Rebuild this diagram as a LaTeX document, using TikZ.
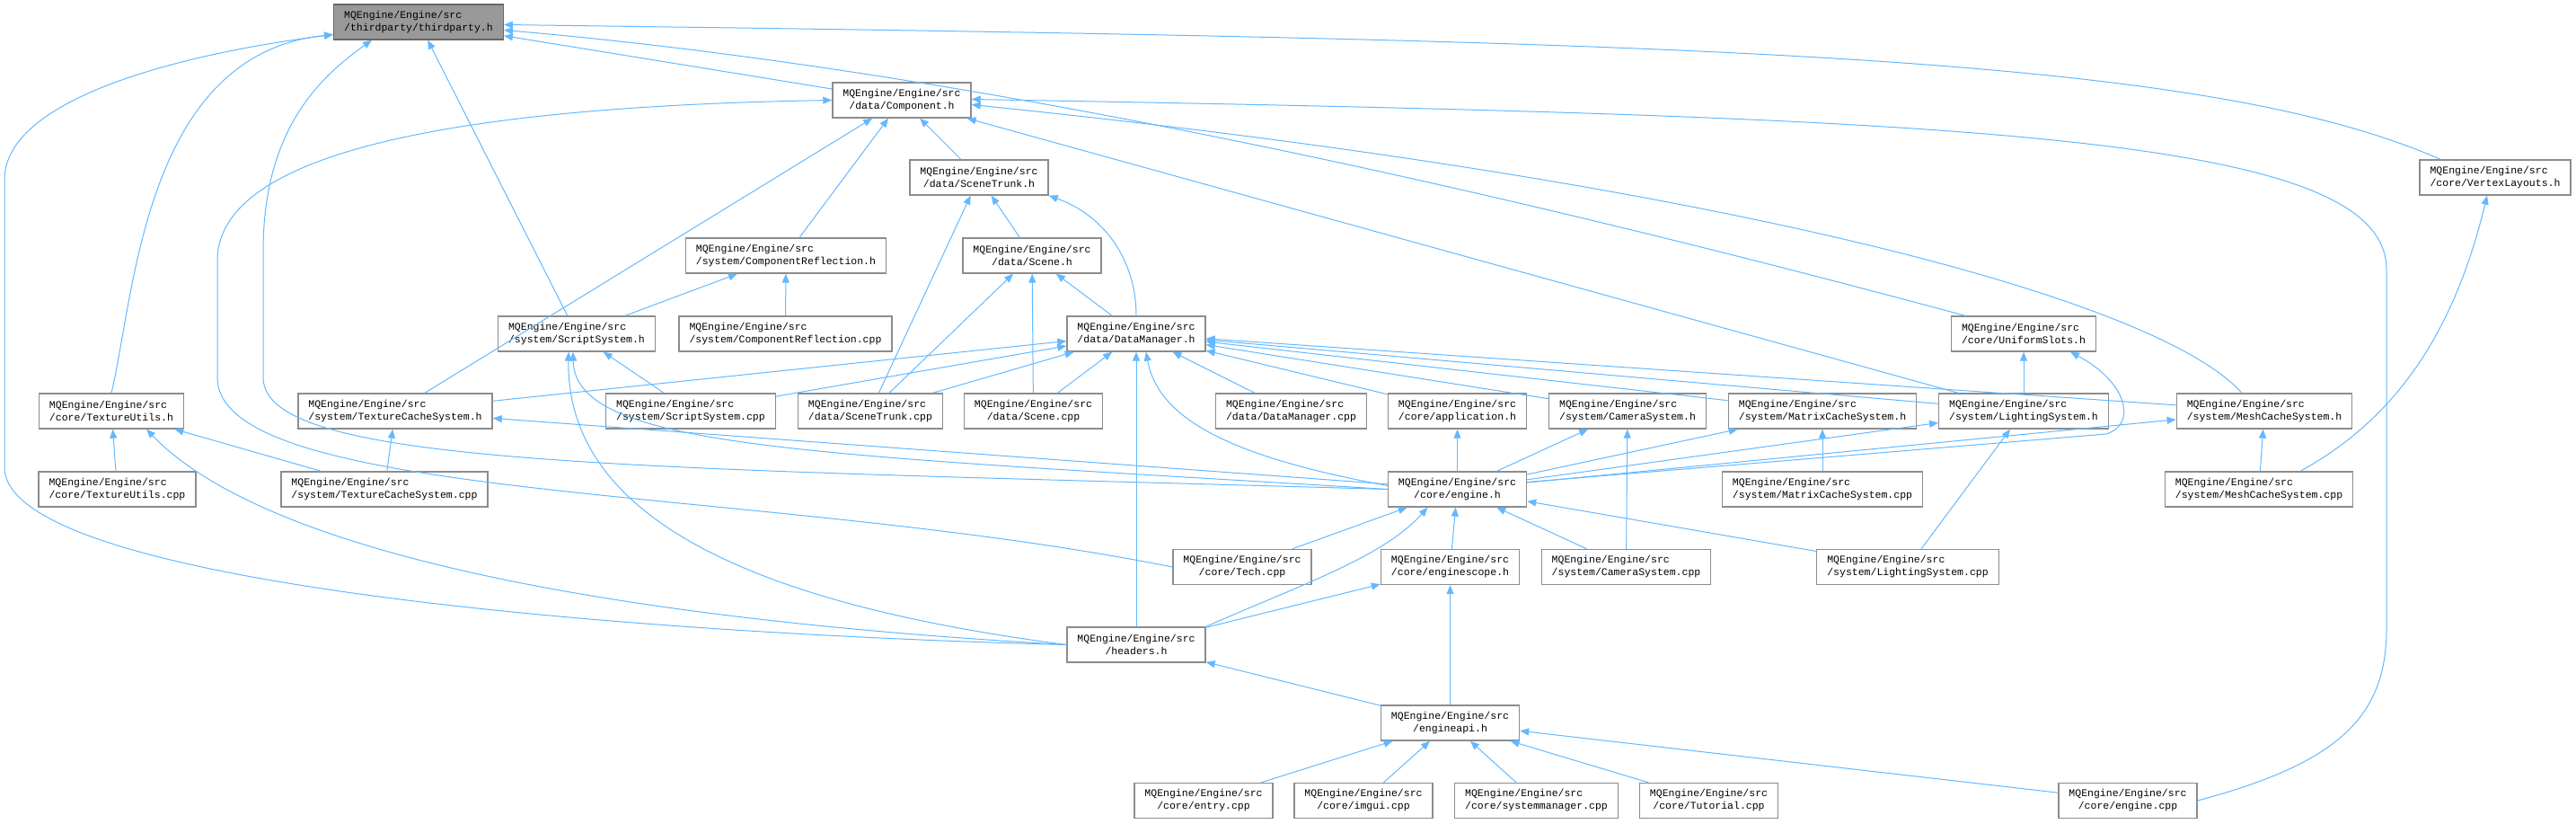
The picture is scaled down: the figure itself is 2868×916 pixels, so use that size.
\documentclass[tikz,border=0pt]{standalone}
\usepackage{fontspec}
\setmonofont{Liberation Mono}
\usetikzlibrary{arrows.meta}

\definecolor{edgeblue}{RGB}{99,184,255}
\definecolor{boxgray}{RGB}{140,140,140}
\definecolor{rootfill}{RGB}{153,153,153}
\definecolor{rootedge}{RGB}{102,102,102}

\begin{document}
\begin{tikzpicture}[
    x=1pt, y=-1pt,
    file/.style={rectangle, draw=boxgray, line width=1.3pt, fill=white,
                 minimum height=39pt, inner xsep=11.5pt, inner ysep=3pt,
                 align=center, font=\ttfamily\fontsize{11.5}{14}\selectfont},
    filel/.style={file, align=left},
    root/.style={filel, fill=rootfill, draw=rootedge},
    inc/.style={-{Triangle[length=10pt, width=8pt]}, line width=1pt, draw=edgeblue}
]
    \useasboundingbox (0,0) rectangle (2868,916);

    \node[root]  (thirdparty)    at (466,24.5)    {MQEngine/Engine/src\\/thirdparty/thirdparty.h};
    \node[file]  (component)     at (1004,111.5)  {MQEngine/Engine/src\\/data/Component.h};
    \node[filel] (vertexh)       at (2778,197.5)  {MQEngine/Engine/src\\/core/VertexLayouts.h};
    \node[file]  (scenetrunkh)   at (1090,197.5)  {MQEngine/Engine/src\\/data/SceneTrunk.h};
    \node[filel] (compreflh)     at (875,284.5)   {MQEngine/Engine/src\\/system/ComponentReflection.h};
    \node[file]  (sceneh)        at (1149,284.5)  {MQEngine/Engine/src\\/data/Scene.h};
    \node[filel] (scripth)       at (642,371.5)   {MQEngine/Engine/src\\/system/ScriptSystem.h};
    \node[filel] (compreflcpp)   at (874.5,371.5) {MQEngine/Engine/src\\/system/ComponentReflection.cpp};
    \node[file]  (datamgrh)      at (1265,371.5)  {MQEngine/Engine/src\\/data/DataManager.h};
    \node[filel] (unislots)      at (2253,371.5)  {MQEngine/Engine/src\\/core/UniformSlots.h};
    \node[filel] (texutilsh)     at (124,457.5)   {MQEngine/Engine/src\\/core/TextureUtils.h};
    \node[filel] (texcacheh)     at (440,457.5)   {MQEngine/Engine/src\\/system/TextureCacheSystem.h};
    \node[filel] (scriptcpp)     at (769,457.5)   {MQEngine/Engine/src\\/system/ScriptSystem.cpp};
    \node[filel] (scenetrunkcpp) at (969,457.5)   {MQEngine/Engine/src\\/data/SceneTrunk.cpp};
    \node[file]  (scenecpp)      at (1150.5,457.5){MQEngine/Engine/src\\/data/Scene.cpp};
    \node[filel] (datamgrcpp)    at (1437.5,457.5){MQEngine/Engine/src\\/data/DataManager.cpp};
    \node[file]  (apph)          at (1622.5,457.5){MQEngine/Engine/src\\/core/application.h};
    \node[filel] (camerah)       at (1812,457.5)  {MQEngine/Engine/src\\/system/CameraSystem.h};
    \node[filel] (matrixh)       at (2029,457.5)  {MQEngine/Engine/src\\/system/MatrixCacheSystem.h};
    \node[filel] (lightingh)     at (2253,457.5)  {MQEngine/Engine/src\\/system/LightingSystem.h};
    \node[filel] (meshh)         at (2521,457.5)  {MQEngine/Engine/src\\/system/MeshCacheSystem.h};
    \node[filel] (texutilscpp)   at (130.5,544.5) {MQEngine/Engine/src\\/core/TextureUtils.cpp};
    \node[filel] (texcachecpp)   at (428,544.5)   {MQEngine/Engine/src\\/system/TextureCacheSystem.cpp};
    \node[file]  (engineh)       at (1622.5,544.5){MQEngine/Engine/src\\/core/engine.h};
    \node[filel] (matrixcpp)     at (2029,544.5)  {MQEngine/Engine/src\\/system/MatrixCacheSystem.cpp};
    \node[filel] (meshcpp)       at (2515,544.5)  {MQEngine/Engine/src\\/system/MeshCacheSystem.cpp};
    \node[file]  (techcpp)       at (1383,631)    {MQEngine/Engine/src\\/core/Tech.cpp};
    \node[file]  (enginescope)   at (1614.5,631)  {MQEngine/Engine/src\\/core/enginescope.h};
    \node[filel] (cameracpp)     at (1810.5,631)  {MQEngine/Engine/src\\/system/CameraSystem.cpp};
    \node[filel] (lightingcpp)   at (2124,631)    {MQEngine/Engine/src\\/system/LightingSystem.cpp};
    \node[file]  (headers)       at (1265,717.5)  {MQEngine/Engine/src\\/headers.h};
    \node[file]  (engineapi)     at (1614.5,804.5){MQEngine/Engine/src\\/engineapi.h};
    \node[file]  (entrycpp)      at (1340,891)    {MQEngine/Engine/src\\/core/entry.cpp};
    \node[file]  (imguicpp)      at (1518,891)    {MQEngine/Engine/src\\/core/imgui.cpp};
    \node[filel] (sysmgrcpp)     at (1710.5,891)  {MQEngine/Engine/src\\/core/systemmanager.cpp};
    \node[file]  (tutorialcpp)   at (1902.5,891)  {MQEngine/Engine/src\\/core/Tutorial.cpp};
    \node[file]  (enginecpp)     at (2369,891)    {MQEngine/Engine/src\\/core/engine.cpp};

    \foreach \a/\b in {component/thirdparty, scripth/thirdparty,
        scenetrunkh/component, compreflh/component, texcacheh/component, lightingh/component,
        scripth/compreflh, compreflcpp/compreflh,
        sceneh/scenetrunkh, scenetrunkcpp/scenetrunkh,
        datamgrh/sceneh, scenetrunkcpp/sceneh, scenecpp/sceneh,
        scriptcpp/scripth,
        texcacheh/datamgrh, scriptcpp/datamgrh, scenetrunkcpp/datamgrh, scenecpp/datamgrh,
        datamgrcpp/datamgrh, apph/datamgrh, camerah/datamgrh, matrixh/datamgrh,
        lightingh/datamgrh, meshh/datamgrh, headers/datamgrh,
        texutilscpp/texutilsh, texcachecpp/texutilsh, texcachecpp/texcacheh,
        engineh/texcacheh, engineh/apph, engineh/camerah, cameracpp/camerah,
        engineh/matrixh, matrixcpp/matrixh, engineh/lightingh, lightingcpp/lightingh,
        engineh/meshh, meshcpp/meshh, lightingh/unislots,
        techcpp/engineh, enginescope/engineh, cameracpp/engineh, lightingcpp/engineh,
        headers/enginescope, engineapi/enginescope, engineapi/headers,
        entrycpp/engineapi, imguicpp/engineapi, sysmgrcpp/engineapi,
        tutorialcpp/engineapi, enginecpp/engineapi}
        \draw[inc] (\a) -- (\b);

    \draw[inc] (headers.west) .. controls (700,705) and (5,650) .. (5,520) -- (5,200)
        .. controls (5,110) and (200,60) .. ([yshift=-14pt]thirdparty.west);
    \draw[inc] (texutilsh.north) .. controls (150,330) and (160,60) .. ([yshift=-14pt]thirdparty.west);
    \draw[inc] (engineh.west) .. controls (700,520) and (293,520) .. (293,420) -- (293,280)
        .. controls (293,150) and (350,90) .. ([xshift=-52pt]thirdparty.south);
    \draw[inc] ([xshift=-61pt]vertexh.north) .. controls (2450,60) and (1900,45) .. ([yshift=-3pt]thirdparty.east);
    \draw[inc] ([xshift=-65pt]unislots.north) .. controls (1700,220) and (1100,80) .. ([yshift=-9pt]thirdparty.east);
    \draw[inc] (techcpp.west) .. controls (850,540) and (242,560) .. (242,420) -- (242,290)
        .. controls (242,160) and (550,118) .. (component.west);
    \draw[inc] (enginecpp.east) .. controls (2600,850) and (2657,800) .. (2657,700) -- (2657,300)
        .. controls (2657,150) and (2200,130) .. ([yshift=1pt]component.east);
    \draw[inc] ([xshift=-25pt]meshh.north) .. controls (2400,330) and (1900,200) .. ([yshift=-5pt]component.east);
    \draw[inc] (datamgrh.north) .. controls (1265,290) and (1230,240) .. (scenetrunkh.south east);
    \draw[inc] (engineh.west) .. controls (900,505) and (640,500) .. ([xshift=-4pt]scripth.south);
    \draw[inc] (headers.west) .. controls (900,680) and (630,600) .. ([xshift=-9pt]scripth.south);
    \draw[inc] (headers.west) .. controls (700,690) and (300,620) .. ([xshift=39pt]texutilsh.south);
    \draw[inc] ([xshift=46pt]meshcpp.north) .. controls (2660,470) and (2730,380) .. ([xshift=-9pt]vertexh.south);
    \draw[inc] ([yshift=8pt]engineh.east) -- (2345,483)
        .. controls (2380,472) and (2368,425) .. ([xshift=52pt]unislots.south);
    \draw[inc] ([yshift=4pt]engineh.west) .. controls (1380,510) and (1290,470) .. ([xshift=11pt]datamgrh.south);
    \draw[inc] (headers.north east) .. controls (1450,650) and (1540,620) .. ([xshift=-33pt]engineh.south);
\end{tikzpicture}
\end{document}
